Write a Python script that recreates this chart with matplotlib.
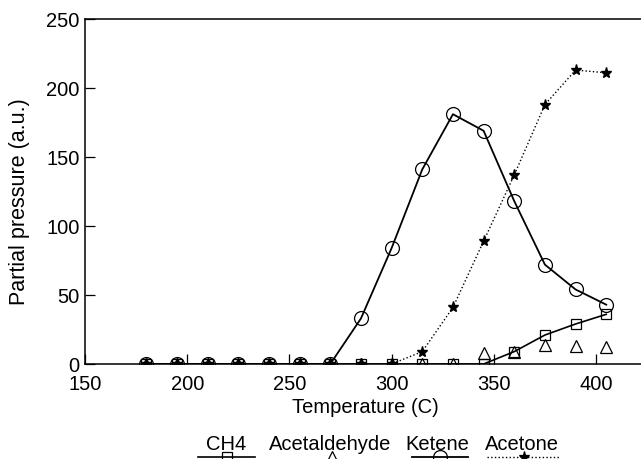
import matplotlib
matplotlib.use("Agg")
import matplotlib.pyplot as plt
from matplotlib.lines import Line2D

plt.rcParams['font.family'] = ['Liberation Sans', 'DejaVu Sans']

temps = [180, 195, 210, 225, 240, 255, 270, 285, 300, 315, 330, 345, 360, 375, 390, 405]
ch4 = [0, 0, 0, 0, 0, 0, 0, 0, 0, 0, 0, 0, 9, 21, 29, 36]
acetaldehyde = [0, 0, 0, 0, 0, 0, 0, 0, 0, 0, 0, 8, 9, 14, 13, 12]
ketene = [0, 0, 0, 0, 0, 0, 0, 33, 84, 141, 181, 169, 118, 72, 54, 43]
acetone = [0, 0, 0, 0, 0, 0, 0, 0, 0, 9, 41, 89, 137, 188, 213, 211]
series_names = ['CH4', 'Acetaldehyde', 'Ketene', 'Acetone']
xticks = [150, 200, 250, 300, 350, 400]
yticks = [0, 50, 100, 150, 200, 250]

W, H = 641, 460
fig = plt.figure(figsize=(W / 100, H / 100), dpi=100)
ax = fig.add_axes([85 / W, 1 - 365 / H, 1 - 85 / W, (365 - 20) / H])

ax.plot(temps, ch4, '-', color='black', lw=1.2, marker='s', ms=7, mfc='none', mec='black', mew=0.9)
ax.plot(temps, acetaldehyde, 'none', marker='^', ms=9, mfc='none', mec='black', mew=0.9)
ax.plot(temps, ketene, '-', color='black', lw=1.3, marker='o', ms=10, mfc='none', mec='black', mew=0.9)
ax.plot(temps, acetone, ':', color='black', lw=1.0, marker='*', ms=8, mfc='black', mec='black')

ax.set_xlim(150, 422)
ax.set_ylim(0, 250)
ax.set_xticks(xticks)
ax.set_yticks(yticks)
ax.tick_params(direction='in', length=7, width=0.9, labelsize=14.5)
ax.tick_params(axis='x', pad=7)
ax.tick_params(axis='y', pad=4)
ax.spines['right'].set_visible(False)
for s in ['left', 'bottom', 'top']:
    ax.spines[s].set_linewidth(1.1)
ax.set_xlabel('Temperature (C)', fontsize=14.5)
ax.set_ylabel('Partial pressure (a.u.)', fontsize=15.5, va='center')
ax.xaxis.set_label_coords((365 - 85) / 556, (365 - 398) / 345)
ax.yaxis.set_label_coords((20 - 85) / 556, (365 - 202) / 345)

# legend: labels above handles
text_y = 1 - 450 / H
line_y = 1 - 458 / H
entries = [
    ('CH4', 226, 198, 255, dict(ls='-', marker='s', ms=7, mfc='none', lw=1.2)),
    ('Acetaldehyde', 330, 332, 332, dict(ls='none', marker='^', ms=9, mfc='none')),
    ('Ketene', 437, 412, 468, dict(ls='-', marker='o', ms=10, mfc='none', lw=1.3)),
    ('Acetone', 522, 487, 560, dict(ls=':', marker='*', ms=8, mfc='black', lw=1.0)),
]
for name, cx, x0, x1, st in entries:
    fig.text(cx / W, text_y, name, ha='center', va='baseline', fontsize=14.5)
    xm = (x0 + x1) / 2
    if x1 > x0:
        fig.add_artist(Line2D([x0 / W, x1 / W], [line_y, line_y], transform=fig.transFigure,
                              color='black', ls=st['ls'], lw=st.get('lw', 1)))
    fig.add_artist(Line2D([xm / W], [line_y], transform=fig.transFigure, ls='none',
                          marker=st['marker'], ms=st['ms'], mfc=st['mfc'], mec='black', mew=0.9))

fig.savefig('out.png', dpi=100)
